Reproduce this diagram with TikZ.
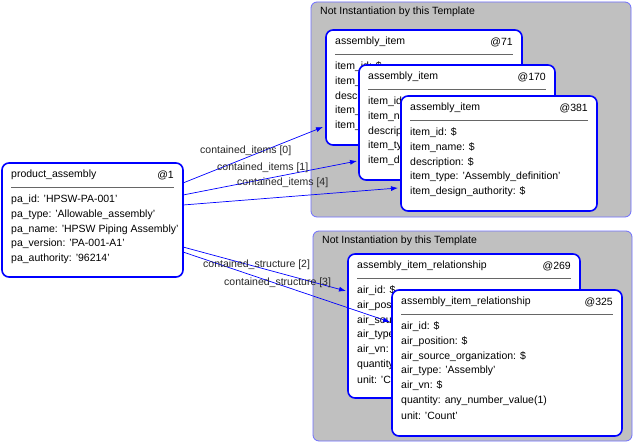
\documentclass[tikz,border=0pt]{standalone}
\usepackage{fontspec}
\setmainfont{Liberation Sans}
\usetikzlibrary{calc,arrows.meta}
\definecolor{grpgray}{RGB}{192,192,192}
\definecolor{grpline}{RGB}{110,110,255}
\tikzset{
  grp/.style={draw=grpline,fill=grpgray,rounded corners=6pt,line width=0.8pt},
  obj/.style={draw=blue,fill=white,rounded corners=7pt,line width=1.6pt},
  txt/.style={anchor=west,inner sep=0pt,font=\fontsize{10.5}{12}\selectfont},
  sep/.style={draw=gray!80!black,line width=1.8pt},
  link/.style={draw=blue,-{Latex[length=7pt,width=5pt]},line width=0.7pt},
  lbl/.style={anchor=west,inner sep=0pt,font=\fontsize{10.5}{12}\selectfont,text=black!85}
}
% box: name, x1, y1, x2, y2, title, id, attributes
\newcommand\objbox[8]{%
  \draw[obj] (#2,#3) rectangle (#4,#5);
  \coordinate (#1) at (#2,#3);
  \node[txt] (#1-t) at (#2+9,#3+12) {#6};
  \node[txt,anchor=east] (#1-i) at (#4-9,#3+12) {#7};
  \draw[sep] (#2+9,#3+24.5) -- (#4-9,#3+24.5);
  \foreach \a [count=\k] in {#8}
    \node[txt] at (#2+9,#3+22+14.8*\k) {\a};
}
\begin{document}
\begin{tikzpicture}[x=1pt,y=-1pt]
  \useasboundingbox (0,0) rectangle (633,444);

  %%%%%%%%% Groups %%%%%%%%%
  \draw[grp] (311,2) rectangle (631,217);
  \node[txt] (g1) at (320,12) {Not Instantiation by this Template};
  \draw[grp] (313,231) rectangle (632,441);
  \node[txt] (g2) at (322,241) {Not Instantiation by this Template};

  %%%%%%%%% Items %%%%%%%%%
  \objbox{ai71}{326}{30}{522}{145}{assembly\_item}{@71}{item\_id: \$,item\_name: \$,description: \$,item\_type: 'Assembly\_definition',item\_design\_authority: \$}
  \objbox{ai170}{359}{65}{555}{180}{assembly\_item}{@170}{item\_id: \$,item\_name: \$,description: \$,item\_type: 'Assembly\_definition',item\_design\_authority: \$}
  \objbox{ai381}{401}{96}{597}{211}{assembly\_item}{@381}{item\_id: \$,item\_name: \$,description: \$,item\_type: 'Assembly\_definition',item\_design\_authority: \$}

  %%%%%%%%% Relationships %%%%%%%%%
  \objbox{air269}{348}{254}{580}{398}{assembly\_item\_relationship}{@269}{air\_id: \$,air\_position: \$,air\_source\_organization: \$,air\_type: 'Assembly',air\_vn: \$,quantity: any\_number\_value(1),unit: 'Count'}
  \objbox{air325}{392}{290}{622}{436}{assembly\_item\_relationship}{@325}{air\_id: \$,air\_position: \$,air\_source\_organization: \$,air\_type: 'Assembly',air\_vn: \$,quantity: any\_number\_value(1),unit: 'Count'}

  %%%%%%%%% Product %%%%%%%%%
  \objbox{pa}{2}{163}{183}{277}{product\_assembly}{@1}{pa\_id: 'HPSW-PA-001',pa\_type: 'Allowable\_assembly',pa\_name: 'HPSW Piping Assembly',pa\_version: 'PA-001-A1',pa\_authority: '96214'}

  %%%%%%%%% Links %%%%%%%%%
  \draw[link] ($(pa)+(181,20)$) -- ($(ai71)+(-3,97)$);
  \draw[link] ($(pa)+(181,32)$) -- ($(ai170)+(-2,96)$);
  \draw[link] ($(pa)+(181,42)$) -- ($(ai381)+(-3,92)$);
  \draw[link] ($(pa)+(181,84)$) -- ($(air269)+(-2,37)$);
  \draw[link] ($(pa)+(181,89)$) -- ($(air325)+(-2,32)$);
  \node[lbl] (l0) at (200,151) {contained\_items [0]};
  \node[lbl] (l1) at (217,168) {contained\_items [1]};
  \node[lbl] (l4) at (237,183) {contained\_items [4]};
  \node[lbl] (l2) at (203,265) {contained\_structure [2]};
  \node[lbl] (l3) at (224,283) {contained\_structure [3]};
\end{tikzpicture}
\end{document}
